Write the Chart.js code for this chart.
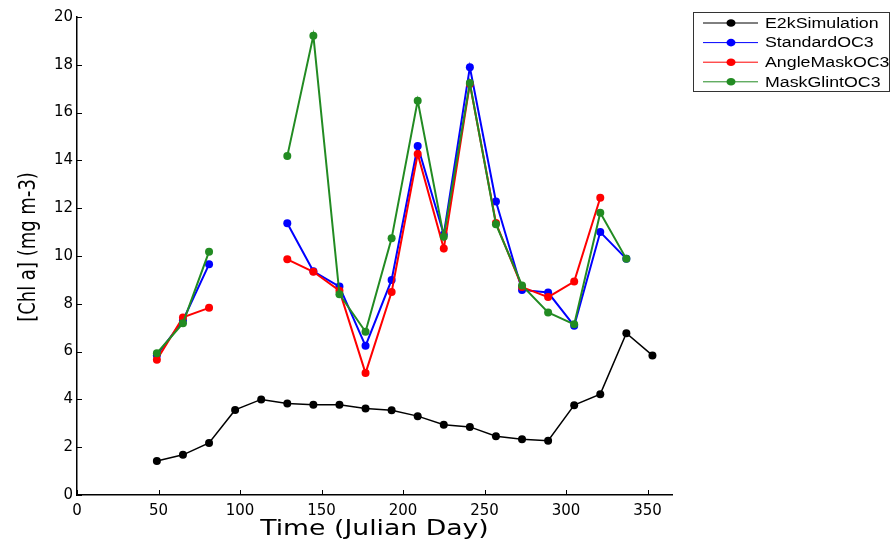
<!DOCTYPE html>
<html>
<head>
<meta charset="utf-8">
<script src="https://cdn.jsdelivr.net/npm/chart.js@4"></script>
<style>
  html, body { margin: 0; padding: 0; background: #fff; }
  #wrap { width: 891px; height: 544px; }
</style>
</head>
<body>
<div id="wrap"><canvas id="chl"></canvas></div>
<script>
// Julian days of the 16-day composites
var days = [49, 65, 81, 97, 113, 129, 145, 161, 177, 193, 209, 225, 241, 257, 273, 289, 305, 321, 337, 353];

var e2kSim = [1.42, 1.68, 2.18, 3.56, 4.0, 3.83, 3.78, 3.78, 3.62, 3.55, 3.3, 2.94, 2.85, 2.46, 2.33, 2.27, 3.76, 4.22, 6.77, 5.84];
var standardOC3 = [5.85, 7.3, 9.65, null, null, 11.37, 9.36, 8.72, 6.24, 9.0, 14.6, 10.9, 17.9, 12.28, 8.58, 8.47, 7.08, 11.0, 9.88, null];
var angleMaskOC3 = [5.66, 7.43, 7.83, null, null, 9.86, 9.34, 8.55, 5.1, 8.49, 14.27, 10.31, 17.2, 11.38, 8.7, 8.28, 8.93, 12.44, null, null];
var maskGlintOC3 = [5.93, 7.19, 10.18, null, null, 14.18, 19.22, 8.4, 6.83, 10.74, 16.5, 10.81, 17.24, 11.33, 8.77, 7.64, 7.14, 11.81, 9.88, null];

var xTicks = [0, 50, 100, 150, 200, 250, 300, 350];
var xTitle = 'Time (Julian Day)';
var yTitle = '[Chl a] (mg m-3)';

// text is drawn a little wide, like the old figure export
var STRETCH = 1.27;

function pts(vals) {
  return days.map(function (d, i) { return { x: d, y: vals[i] }; });
}

function series(label, vals, color, width, order) {
  return {
    label: label,
    data: pts(vals),
    order: order,
    borderColor: color,
    backgroundColor: color,
    borderWidth: width,
    pointRadius: 4,
    pointBorderWidth: 0,
    pointBackgroundColor: color,
    spanGaps: false,
    tension: 0
  };
}

// inward tick marks, MATLAB style
var innerTicks = {
  id: 'innerTicks',
  afterDraw: function (chart) {
    var c = chart.ctx, a = chart.chartArea;
    var xs = chart.scales.x, ys = chart.scales.y;
    c.save();
    c.strokeStyle = '#000';
    c.lineWidth = 1;
    c.beginPath();
    ys.ticks.forEach(function (t) {
      var y = Math.round(ys.getPixelForValue(t.value)) + 0.5;
      c.moveTo(a.left, y); c.lineTo(a.left + 5, y);
    });
    xs.ticks.forEach(function (t) {
      var x = Math.round(xs.getPixelForValue(t.value)) + 0.5;
      c.moveTo(x, a.bottom); c.lineTo(x, a.bottom - 5);
    });
    c.stroke();
    c.restore();
  }
};

// axis titles, widened
var axisTitles = {
  id: 'axisTitles',
  afterDraw: function (chart) {
    var c = chart.ctx, a = chart.chartArea;
    c.save();
    c.fillStyle = '#000';
    c.font = '21px "DejaVu Sans", sans-serif';
    c.textAlign = 'center';
    c.textBaseline = 'alphabetic';
    c.save();
    c.translate((a.left + a.right) / 2, 535);
    c.scale(STRETCH, 1);
    c.fillText(xTitle, 0, 0);
    c.restore();

    c.font = '18px "DejaVu Sans", sans-serif';
    c.save();
    c.translate(35, (a.top + a.bottom) / 2 - 9);
    c.rotate(-Math.PI / 2);
    c.scale(1, STRETCH);
    c.fillText(yTitle, 0, 0);
    c.restore();
    c.restore();
  }
};

// boxed legend in the top right corner
var boxLegend = {
  id: 'boxLegend',
  afterDraw: function (chart) {
    var c = chart.ctx;
    var bx = 693, by = 12, bw = 196, bh = 79;
    c.save();
    c.fillStyle = '#fff';
    c.fillRect(bx, by, bw, bh);
    c.strokeStyle = '#333';
    c.lineWidth = 1;
    c.strokeRect(bx + 0.5, by + 0.5, bw, bh);
    chart.data.datasets.forEach(function (ds, i) {
      var y = by + 11 + i * 19.6;
      c.strokeStyle = ds.borderColor;
      c.lineWidth = 1;
      c.beginPath();
      c.moveTo(703, y); c.lineTo(758, y);
      c.stroke();
      c.fillStyle = ds.borderColor;
      c.beginPath();
      c.ellipse(731, y, 4.5, 3.8, 0, 0, Math.PI * 2);
      c.fill();
      c.save();
      c.translate(765, y);
      c.scale(STRETCH, 1);
      c.fillStyle = '#000';
      c.font = '14px "Liberation Sans", Arial, sans-serif';
      c.textBaseline = 'middle';
      c.fillText(ds.label, 0, 1);
      c.restore();
    });
    c.restore();
  }
};

new Chart(document.getElementById('chl'), {
  type: 'line',
  data: {
    datasets: [
      series('E2kSimulation', e2kSim, '#000000', 1.5, 4),
      series('StandardOC3', standardOC3, '#0000ff', 2, 3),
      series('AngleMaskOC3', angleMaskOC3, '#ff0000', 2, 2),
      series('MaskGlintOC3', maskGlintOC3, '#228b22', 2, 1)
    ]
  },
  options: {
    responsive: true,
    maintainAspectRatio: false,
    animation: false,
    layout: { padding: { top: 17, right: 219, bottom: 0, left: 0 } },
    plugins: {
      legend: { display: false },
      tooltip: { enabled: false }
    },
    scales: {
      x: {
        type: 'linear',
        min: 0,
        max: 365,
        afterBuildTicks: function (s) {
          s.ticks = xTicks.map(function (v) { return { value: v }; });
        },
        afterFit: function (s) { s.height = 49; },
        grid: { display: true, drawOnChartArea: false, drawTicks: false },
        border: { display: true, color: '#000', width: 1.5 },
        ticks: {
          color: '#000',
          padding: 7,
          maxRotation: 0,
          font: { family: '"DejaVu Sans", sans-serif', size: 15 }
        }
      },
      y: {
        min: 0,
        max: 20,
        afterFit: function (s) { s.width = 77; },
        grid: { display: true, drawOnChartArea: false, drawTicks: false },
        border: { display: true, color: '#000', width: 1.5 },
        ticks: {
          stepSize: 2,
          color: '#000',
          padding: 4,
          font: { family: '"DejaVu Sans", sans-serif', size: 15 }
        }
      }
    }
  },
  plugins: [innerTicks, axisTitles, boxLegend]
});
</script>
</body>
</html>
